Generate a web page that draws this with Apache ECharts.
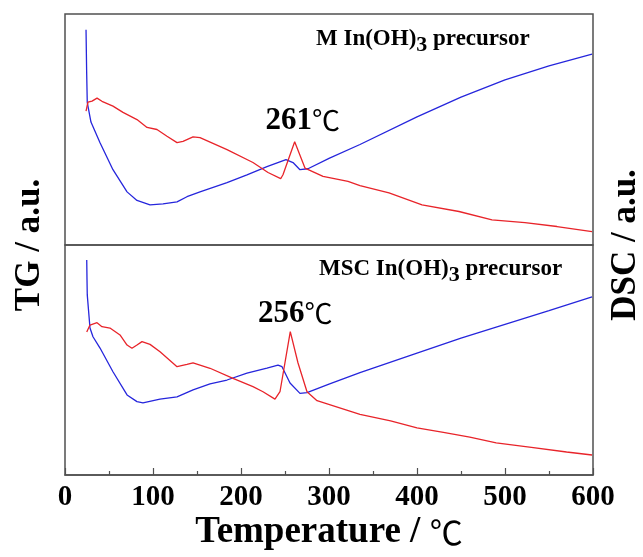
<!DOCTYPE html>
<html>
<head>
<meta charset="utf-8">
<script src="https://cdn.jsdelivr.net/npm/echarts@6/dist/echarts.min.js"></script>
<style>
  html, body { margin: 0; padding: 0; background: #ffffff; }
  #chart { width: 643px; height: 557px; }
</style>
</head>
<body>
<div id="chart"></div>
<script>
// Temperature axis (°C)
const tempTicks = [0, 100, 200, 300, 400, 500, 600];

// M In(OH)3 precursor — TG trace (temperature, signal in a.u.)
const mTgTemp = [23.9, 24.6, 25.3, 29.5, 39.8, 54.5, 70.5, 81.8, 96.6, 111.4, 127.3, 138.6, 153.4, 184.1, 206.8, 229.5, 251.1, 259.1, 267.0, 276.1, 300, 335.2, 400, 450, 500, 550, 598.9];
const mTgVal  = [93.2, 75.0, 61.7, 53.2, 44.3, 32.6, 23.0, 19.3, 17.4, 17.8, 18.7, 20.9, 23.0, 27.0, 30.4, 33.9, 37.0, 35.7, 32.6, 33.0, 37.5, 43.5, 55.5, 64.0, 71.5, 77.5, 82.6];

// M In(OH)3 precursor — DSC trace
const mDscTemp = [23.9, 26.1, 30.7, 36.4, 42.0, 54.5, 65.9, 81.8, 93.2, 104.5, 115.9, 127.3, 134.1, 145.5, 153.4, 184.1, 213.6, 230.7, 245.1, 247.7, 261, 272.7, 293.2, 321.6, 335.2, 368.2, 405.7, 447.7, 485.2, 522.7, 559.1, 598.9];
const mDscVal  = [58.0, 61.9, 62.3, 63.6, 62.2, 60.1, 57.4, 54.3, 50.9, 50.0, 47.1, 44.3, 44.9, 46.8, 46.5, 41.3, 35.7, 31.4, 28.7, 30.4, 44.7, 33.3, 29.7, 27.5, 25.7, 22.6, 17.4, 14.5, 10.9, 9.7, 8.0, 5.8];

// MSC In(OH)3 precursor — TG trace
const mscTgTemp = [24.7, 25.0, 25.3, 28.4, 31.8, 39.8, 54.5, 70.5, 81.8, 88.6, 107.9, 127.3, 145.5, 164.8, 184.1, 206.8, 229.5, 242.0, 246.6, 255.7, 267.0, 275.0, 300, 335.2, 400, 450, 500, 550, 598.9];
const mscTgVal  = [93.5, 85.0, 78.3, 63.9, 60.1, 55.2, 44.9, 34.8, 31.9, 31.4, 33.0, 34.0, 37.0, 39.6, 41.3, 44.3, 46.5, 47.8, 47.1, 40.0, 35.5, 35.8, 39.5, 44.5, 53.0, 59.5, 65.5, 71.5, 77.4];

// MSC In(OH)3 precursor — DSC trace
const mscDscTemp = [24.7, 28.4, 36.4, 42.0, 51.1, 62.5, 70.5, 76.1, 81.8, 87.5, 96.6, 108.0, 127.3, 138.6, 145.5, 164.8, 190.9, 213.6, 225.0, 238.6, 244.3, 256, 264.8, 275.0, 286.4, 335.2, 370, 400, 430, 460, 490, 530, 570, 598.9];
const mscDscVal  = [62.2, 65.2, 66.2, 64.5, 63.9, 60.9, 56.5, 55.1, 56.5, 58.0, 56.8, 53.6, 47.1, 48.1, 48.8, 46.4, 42.0, 38.4, 36.2, 33.0, 36.2, 62.3, 48.7, 36.2, 32.3, 26.4, 23.5, 20.5, 18.5, 16.5, 14.0, 12.0, 10.0, 8.7];

// Exothermic peak temperatures marked on the DSC traces
const peakTemps = [261, 256];

const pairs = (xs, ys) => xs.map((x, i) => [x, ys[i]]);

const SERIF = '"Liberation Serif", "Times New Roman", serif';
const CJK = '"Noto Sans CJK SC", sans-serif';
const FRAME = '#505050';
const RED = '#e8242a';
const BLUE = '#2626dc';

const chart = echarts.init(document.getElementById('chart'), null, { renderer: 'canvas' });

function peakMark(series, t) {
  const idx = series.temps.indexOf(t);
  return {
    symbol: 'circle',
    symbolSize: 1,
    itemStyle: { color: 'rgba(0,0,0,0)' },
    label: {
      show: true,
      position: 'inside',
      offset: series.offset,
      formatter: () => '{n|' + t + '}{c|℃}',
      rich: {
        n: { fontFamily: SERIF, fontWeight: 'bold', fontSize: 31, color: '#000' },
        c: { fontFamily: CJK, fontWeight: 'normal', fontSize: 28, color: '#000' }
      }
    },
    data: [{ coord: [t, series.vals[idx]] }]
  };
}

const labelRich = {
  b: { fontFamily: SERIF, fontWeight: 'bold', fontSize: 23, color: '#000' },
  s: { fontFamily: SERIF, fontWeight: 'bold', fontSize: 22, color: '#000', padding: [12, 0, 0, 0] }
};

const option = {
  backgroundColor: '#ffffff',
  animation: false,
  grid: [
    { left: 65, right: 50, top: 14, height: 231, show: true, borderColor: FRAME, borderWidth: 1.5, backgroundColor: 'transparent' },
    { left: 65, right: 50, top: 245, height: 230, show: true, borderColor: FRAME, borderWidth: 1.5, backgroundColor: 'transparent' }
  ],
  xAxis: [
    {
      gridIndex: 0, type: 'value', min: 0, max: 600, interval: 100,
      axisLine: { show: false }, axisTick: { show: false }, axisLabel: { show: false }, splitLine: { show: false }
    },
    {
      gridIndex: 1, type: 'value', min: tempTicks[0], max: tempTicks[tempTicks.length - 1], interval: 100,
      axisLine: { show: true, onZero: false, lineStyle: { color: FRAME, width: 1.5 } },
      axisTick: { show: true, inside: true, length: 7, lineStyle: { color: FRAME, width: 1.2 } },
      minorTick: { show: true, splitNumber: 2, length: 4, lineStyle: { color: FRAME, width: 1.2 } },
      axisLabel: {
        show: true, margin: 8, color: '#000',
        fontFamily: SERIF, fontWeight: 'bold', fontSize: 29,
        formatter: v => (tempTicks.includes(v) ? String(v) : '')
      },
      splitLine: { show: false },
      name: '{t|Temperature / }{c|℃}',
      nameLocation: 'middle',
      nameGap: 39,
      nameTextStyle: {
        rich: {
          t: { fontFamily: SERIF, fontWeight: 'bold', fontSize: 37, color: '#000' },
          c: { fontFamily: CJK, fontWeight: 'normal', fontSize: 33, color: '#000' }
        }
      }
    }
  ],
  yAxis: [
    { gridIndex: 0, type: 'value', min: 0, max: 100, position: 'left', show: false },
    { gridIndex: 0, type: 'value', min: 0, max: 100, position: 'right', show: false },
    { gridIndex: 1, type: 'value', min: 0, max: 100, position: 'left', show: false },
    { gridIndex: 1, type: 'value', min: 0, max: 100, position: 'right', show: false }
  ],
  graphic: [
    {
      type: 'text', left: 316, top: 28,
      style: { text: '{b|M In(OH)}{s|3}{b| precursor}', rich: labelRich }
    },
    {
      type: 'text', left: 319, top: 258,
      style: { text: '{b|MSC In(OH)}{s|3}{b| precursor}', rich: labelRich }
    },
    {
      type: 'text', x: 30, y: 245, rotation: Math.PI / 2,
      style: { text: 'TG / a.u.', font: 'bold 35px ' + SERIF, fill: '#000', align: 'center', verticalAlign: 'middle' }
    },
    {
      type: 'text', x: 626, y: 245, rotation: Math.PI / 2,
      style: { text: 'DSC / a.u.', font: 'bold 35px ' + SERIF, fill: '#000', align: 'center', verticalAlign: 'middle' }
    }
  ],
  series: [
    {
      name: 'M TG', type: 'line', xAxisIndex: 0, yAxisIndex: 0,
      data: pairs(mTgTemp, mTgVal), showSymbol: false, symbol: 'none',
      lineStyle: { color: BLUE, width: 1.3 }
    },
    {
      name: 'M DSC', type: 'line', xAxisIndex: 0, yAxisIndex: 1,
      data: pairs(mDscTemp, mDscVal), showSymbol: false, symbol: 'none',
      lineStyle: { color: RED, width: 1.3 },
      markPoint: peakMark({ temps: mDscTemp, vals: mDscVal, offset: [8, -21] }, peakTemps[0])
    },
    {
      name: 'MSC TG', type: 'line', xAxisIndex: 1, yAxisIndex: 2,
      data: pairs(mscTgTemp, mscTgVal), showSymbol: false, symbol: 'none',
      lineStyle: { color: BLUE, width: 1.3 }
    },
    {
      name: 'MSC DSC', type: 'line', xAxisIndex: 1, yAxisIndex: 3,
      data: pairs(mscDscTemp, mscDscVal), showSymbol: false, symbol: 'none',
      lineStyle: { color: RED, width: 1.3 },
      markPoint: peakMark({ temps: mscDscTemp, vals: mscDscVal, offset: [5, -18] }, peakTemps[1])
    }
  ]
};

chart.setOption(option);
</script>
</body>
</html>
